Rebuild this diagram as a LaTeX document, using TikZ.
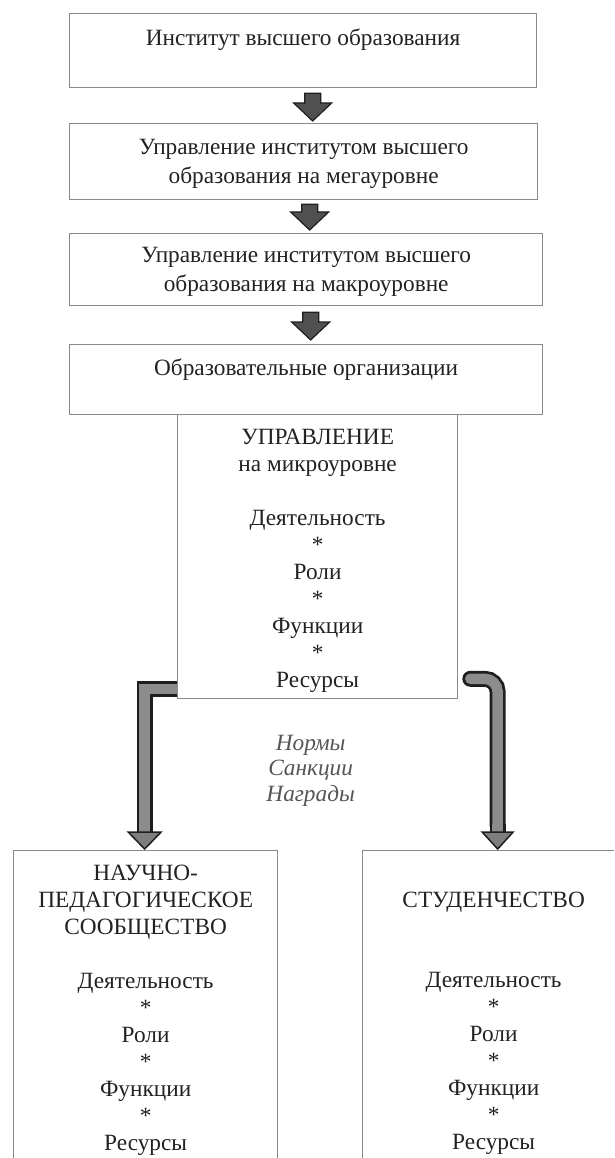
\documentclass[tikz,border=0pt]{standalone}
\usepackage{fontspec}
\setmainfont{Liberation Serif}
\usetikzlibrary{calc}
\definecolor{bordc}{HTML}{8A8A8A}
\definecolor{txtc}{HTML}{222222}
\definecolor{arrfill}{HTML}{505050}
\definecolor{arrline}{HTML}{1E1E1E}
\definecolor{bentfill}{HTML}{8C8C8C}
\definecolor{itc}{HTML}{555555}
\newcommand\blockdown[2]{%
  \path[barrow] let \p1=#1, \p2=#2 in
    (\x1-8pt,\y1) -- (\x1+8pt,\y1) -- (\x1+8pt,\y2+18pt) -- (\x1+19pt,\y2+18pt)
    -- (\x1,\y2) -- (\x1-19pt,\y2+18pt) -- (\x1-8pt,\y2+18pt) -- cycle;}
\begin{document}
\begin{tikzpicture}[x=1pt,y=-1pt,
  box/.style={draw=bordc, line width=1.3pt, fill=white, inner sep=0pt, anchor=north west},
  lbl/.style={text=txtc, align=center, font=\fontsize{23.3}{27}\selectfont, inner sep=0pt, anchor=north},
  itl/.style={text=itc, align=center, font=\fontsize{23.3}{25.5}\selectfont\itshape, inner sep=0pt, anchor=north},
  barrow/.style={draw=arrline, fill=arrfill, line width=1.2pt, line join=miter},
  shaftout/.style={draw=arrline, line width=16pt},
  shaftin/.style={draw=bentfill, line width=10.5pt},
  bhead/.style={draw=arrline, fill=bentfill!90!black, line width=1.5pt, line join=miter}
]
\path[use as bounding box] (0,0) rectangle (614,1158);
\clip (0,0) rectangle (614,1158);

% boxes
\node[box, minimum width=467, minimum height=74] (b1) at (69,13) {};
\node[box, minimum width=468, minimum height=76] (b2) at (69,123) {};
\node[box, minimum width=473, minimum height=72] (b3) at (69,233) {};
\node[box, minimum width=473, minimum height=70] (b4) at (69,344) {};
\node[box, minimum width=280, minimum height=284] (micro) at (177,414) {};
\node[box, minimum width=264, minimum height=400] (nps) at (13,850) {};
\node[box, minimum width=262, minimum height=400] (stu) at (362,850) {};

% texts
\node[lbl] (t1) at ($(b1.north)+(0,15.5)$) {Институт высшего образования};
\node[lbl] (t2) at ($(b2.north)+(0,16.5)$) {Управление институтом высшего\\[2pt]образования на мегауровне};
\node[lbl] (t3) at ($(b3.north)+(0,14.5)$) {Управление институтом высшего\\[2pt]образования на макроуровне};
\node[lbl] (t4) at ($(b4.north)+(0,14.5)$) {Образовательные организации};
\node[lbl] (tm) at ($(micro.north)+(0,14.5)$) {УПРАВЛЕНИЕ\\на микроуровне\\[27pt]Деятельность\\*\\Роли\\*\\Функции\\*\\Ресурсы};
\node[lbl] (tn) at ($(nps.north)+(0,15)$) {НАУЧНО-\\ПЕДАГОГИЧЕСКОЕ\\СООБЩЕСТВО\\[27pt]Деятельность\\*\\Роли\\*\\Функции\\*\\Ресурсы};
\node[lbl] (ts) at ($(stu.north)+(0,42)$) {СТУДЕНЧЕСТВО};
\node[lbl] (tsl) at ($(stu.north)+(0,122)$) {Деятельность\\*\\Роли\\*\\Функции\\*\\Ресурсы};
\node[itl] (nsn) at ($(micro.south)+(-7,35.5)$) {Нормы\\Санкции\\Награды};

% straight block arrows
\blockdown{($(b1.south)+(9.5,5)$)}{($(b2.north)+(9,-2)$)}
\blockdown{($(b2.south)+(6,4)$)}{($(b3.north)+(3.5,-3)$)}
\blockdown{($(b3.south)+(4.5,6)$)}{($(b4.north)+(4.5,-4)$)}

% bent arrows
\coordinate (Ltip) at ($(nps.north)+(-1,-1)$);
\coordinate (Lstart) at ($(micro.south west)+(0,-10.5)$);
\coordinate (Lcorner) at (Ltip |- Lstart);
\coordinate (Lhead) at ($(Ltip)+(0,-17)$);
\draw[shaftout, line join=miter] (Lstart) -- (Lcorner) -- (Lhead);
\draw[shaftin, line join=miter] ($(Lstart)+(0.5,0)$) -- (Lcorner) -- (Lhead);
\path[bhead] (Lhead) +(-16.5,0) -- +(16.5,0) -- (Ltip) -- cycle;

\coordinate (Rtip) at ($(stu.north)+(4,-1)$);
\coordinate (Rstart) at ($(micro.south east)+(12,-20.5)$);
\coordinate (Rcorner) at (Rtip |- Rstart);
\coordinate (Rhead) at ($(Rtip)+(0,-17)$);
\draw[shaftout, rounded corners=13, line cap=round] (Rstart) -- (Rcorner) -- ($(Rhead)+(0,-6)$);
\draw[shaftout, rounded corners=0] ($(Rhead)+(0,-8)$) -- (Rhead);
\draw[shaftin, rounded corners=13, line cap=round] (Rstart) -- (Rcorner) -- ($(Rhead)+(0,-6)$);
\draw[shaftin, rounded corners=0] ($(Rhead)+(0,-8)$) -- (Rhead);
\path[bhead] (Rhead) +(-15.5,0) -- +(15.5,0) -- (Rtip) -- cycle;
\end{tikzpicture}
\end{document}
